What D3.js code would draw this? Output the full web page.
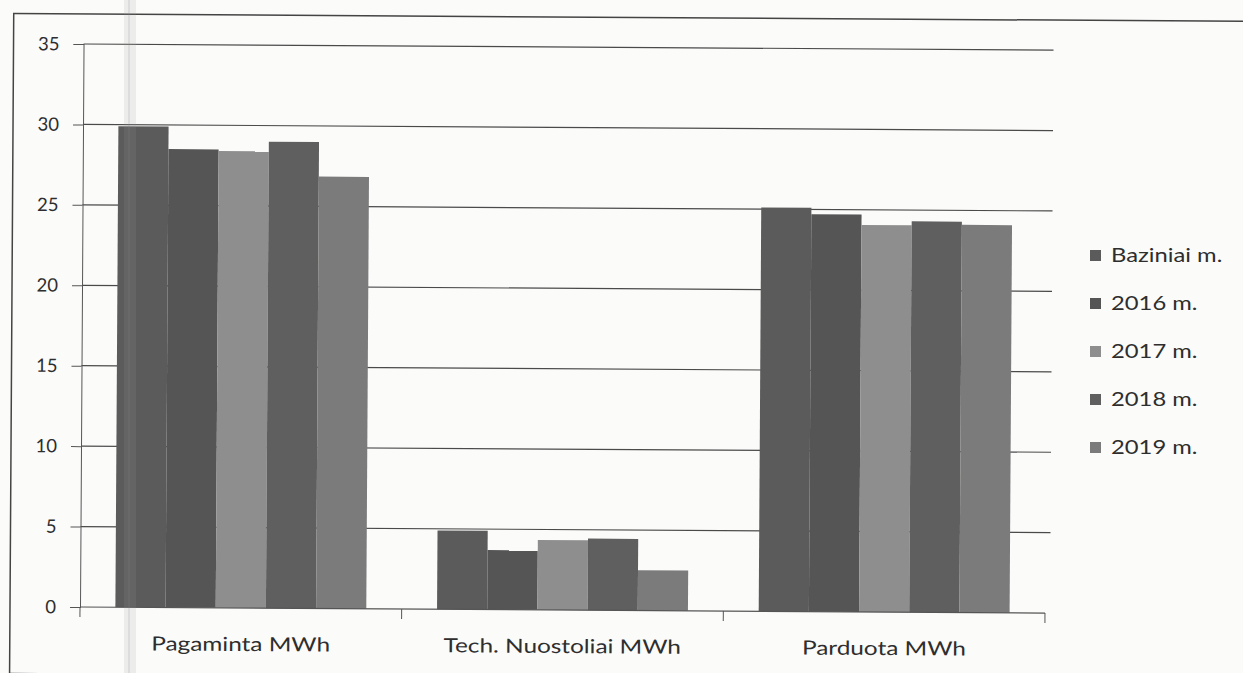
<!DOCTYPE html>
<html><head><meta charset="utf-8">
<script src="https://cdn.jsdelivr.net/npm/d3@7"></script>
<style>html,body{margin:0;padding:0;background:#fbfbfa;}svg{display:block;font-family:Lato,"Open Sans",sans-serif;}</style>
</head><body>
<svg id="c" width="1243" height="673"></svg>
<script>
const categories = ["Pagaminta MWh", "Tech. Nuostoliai MWh", "Parduota MWh"];
const seriesNames = ["Baziniai m.", "2016 m.", "2017 m.", "2018 m.", "2019 m."];
const baziniai = [29.9, 4.9, 25.1];
const y2016 = [28.5, 3.7, 24.7];
const y2017 = [28.4, 4.35, 24.05];
const y2018 = [29.0, 4.45, 24.3];
const y2019 = [26.85, 2.5, 24.1];
const yTicks = [0, 5, 10, 15, 20, 25, 30, 35];
const colors = ["#5b5b5b", "#555555", "#8e8e8e", "#5f5f5f", "#7b7b7b"];

const seriesVals = [baziniai, y2016, y2017, y2018, y2019];
const svg = d3.select("#c");
const W = 1243, H = 673;
const m = {left: 80, right: 1045, top: 44, bottom: 607};

svg.append("rect").attr("width", W).attr("height", H).attr("fill", "#fbfbfa");
const root = svg.append("g").attr("transform", "rotate(0.36 80 607)");

// frame
root.append("rect").attr("x", 10).attr("y", 14).attr("width", 1250).attr("height", 660)
  .attr("fill", "none").attr("stroke", "#444").attr("stroke-width", 1.5);

const y = d3.scaleLinear().domain([0, 35]).range([m.bottom, m.top]);
const x0 = d3.scaleBand().domain(categories).range([m.left, m.right]).paddingInner(0.22).paddingOuter(0.11);
const x1 = d3.scaleBand().domain(seriesNames).range([0, x0.bandwidth()]).padding(0);

// gridlines
root.append("g").selectAll("line").data(yTicks.filter(d => d > 0)).join("line")
  .attr("x1", m.left).attr("x2", m.right + 5)
  .attr("y1", d => y(d)).attr("y2", d => y(d))
  .attr("stroke", "#4a4a4a").attr("stroke-width", 1.2);

// bars
const gCat = root.append("g").selectAll("g").data(categories).join("g")
  .attr("transform", d => `translate(${x0(d)},0)`);
gCat.selectAll("rect").data((c, ci) => seriesNames.map((s, si) => ({s, si, v: seriesVals[si][ci]}))).join("rect")
  .attr("x", d => x1(d.s)).attr("width", x1.bandwidth())
  .attr("y", d => y(d.v)).attr("height", d => y(0) - y(d.v))
  .attr("fill", d => colors[d.si]);

// y axis
const ya = d3.axisLeft(y).tickValues(yTicks).tickSize(10).tickPadding(14);
const yg = root.append("g").attr("transform", `translate(${m.left},0)`).call(ya);
yg.select(".domain").attr("stroke", "#555");
yg.selectAll(".tick line").attr("stroke", "#555");
yg.selectAll(".tick text").attr("font-size", 18.5).attr("fill", "#2e2e2e").attr("font-family", "Lato, sans-serif");

// x axis
const xa = root.append("g").attr("transform", `translate(0,${m.bottom})`);
xa.append("line").attr("x1", m.left).attr("x2", m.right).attr("stroke", "#555").attr("stroke-width", 1.2);
const bounds = [m.left, ...categories.map(c => x0(c) + x0.bandwidth() + x0.step() * x0.paddingInner() / 2)];
bounds[3] = m.right;
xa.selectAll(".tk").data(bounds).join("line").attr("class", "tk")
  .attr("x1", d => d).attr("x2", d => d).attr("y1", 0).attr("y2", 10).attr("stroke", "#555");
xa.selectAll("text").data(categories).join("text")
  .attr("transform", d => `translate(${x0(d) + x0.bandwidth() / 2},43) scale(1.25,1)`)
  .attr("text-anchor", "middle").attr("font-size", 19.5).attr("fill", "#2e2e2e").text(d => d);

// legend
const lg = svg.append("g").attr("transform", "translate(1090,255)");
const li = lg.selectAll("g").data(seriesNames).join("g").attr("transform", (d, i) => `translate(0,${i * 48})`);
li.append("rect").attr("x", 0).attr("y", -5).attr("width", 11).attr("height", 11).attr("fill", (d, i) => colors[i]);
li.append("text").attr("transform", "translate(21,7) scale(1.22,1)").attr("font-size", 19.5).attr("fill", "#2e2e2e").text(d => d);

// scan streak
svg.append("rect").attr("x", 124).attr("y", 0).attr("width", 12).attr("height", H).attr("fill", "#999").attr("opacity", 0.15);
svg.append("line").attr("x1", 129).attr("x2", 129).attr("y1", 0).attr("y2", H).attr("stroke", "#888").attr("stroke-width", 1).attr("opacity", 0.3);
</script>
</body></html>
